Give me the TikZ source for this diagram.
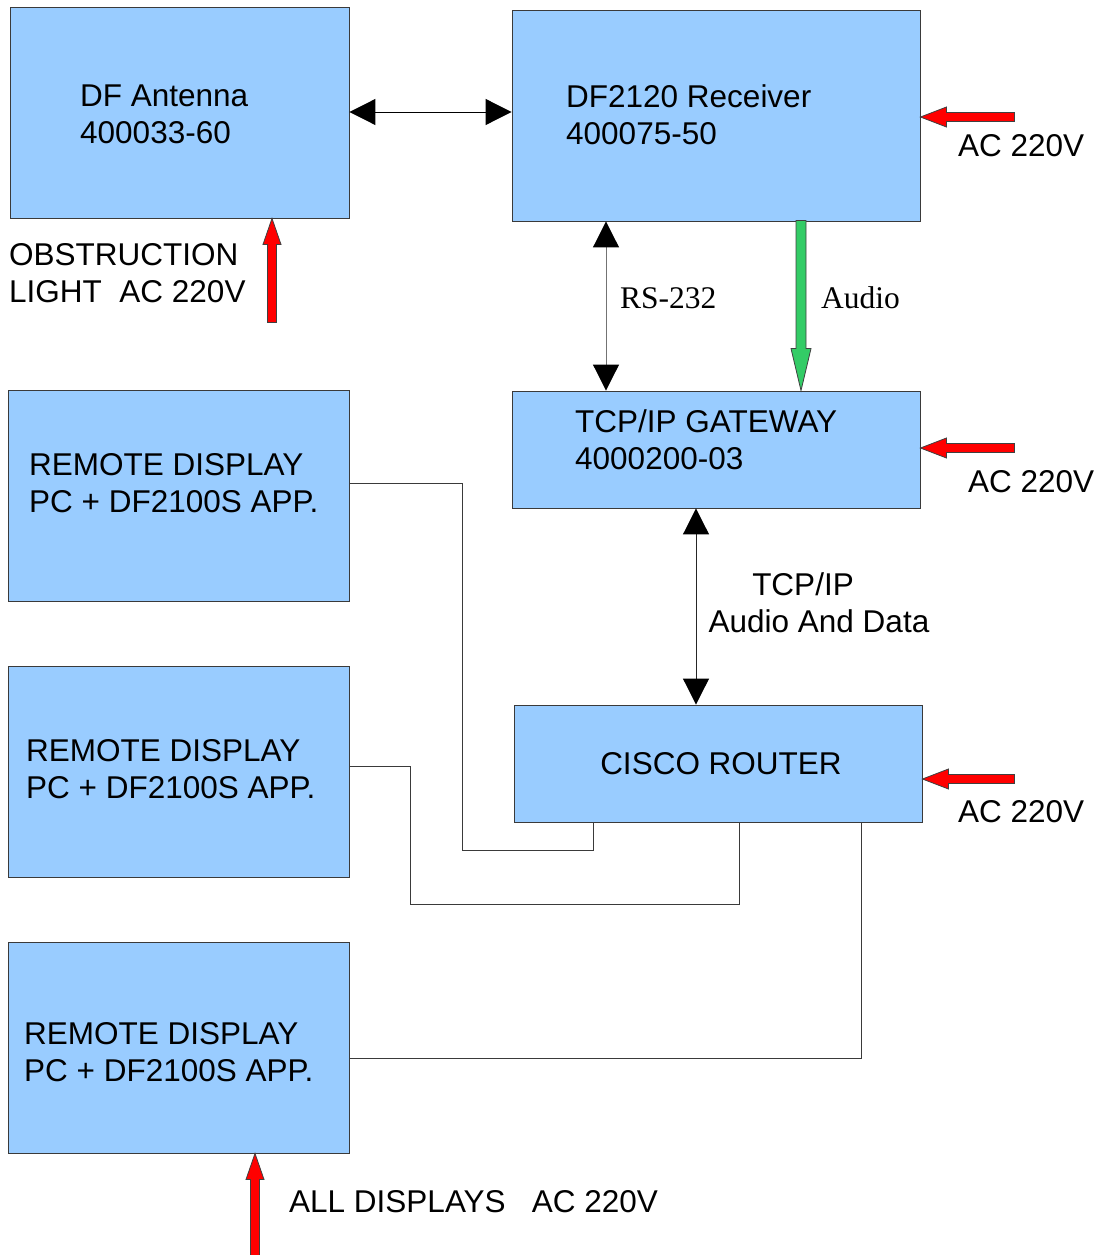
\documentclass[tikz,border=0pt]{standalone}
\usepackage{fontspec}
\setmainfont{Liberation Sans}
\newfontfamily\labelserif{Liberation Serif}
\usetikzlibrary{arrows.meta,positioning}
\definecolor{boxblue}{HTML}{99CCFF}
\definecolor{boxline}{HTML}{3A3A3A}
\definecolor{powerred}{HTML}{FF0000}
\definecolor{audiogreen}{HTML}{33CC66}

\tikzset{
  unit/.style={draw=boxline,fill=boxblue,line width=0.9pt,inner sep=0pt},
  boxtext/.style={anchor=west,align=left,inner sep=0pt,font=\fontsize{31.5}{37}\selectfont},
  note/.style={anchor=west,align=left,inner sep=0pt,font=\fontsize{31.5}{37}\selectfont},
  serifnote/.style={anchor=west,inner sep=0pt,font=\labelserif\fontsize{31.5}{37}\selectfont},
  link/.style={line width=1pt,{Triangle[length=26pt,width=26pt,color=black]}-{Triangle[length=26pt,width=26pt,color=black]}},
  wire/.style={line width=0.9pt,boxline},
  pics/fatarrow/.style n args={5}{code={
    \filldraw[draw=black!75,fill=#5,line width=0.8pt] (0,0) -- (#2,#3/2) -- (#2,#4/2)
      -- (#1,#4/2) -- (#1,-#4/2) -- (#2,-#4/2) -- (#2,-#3/2) -- cycle;
  }}
}

\begin{document}
\begin{tikzpicture}[x=1pt,y=1pt]
  \useasboundingbox (0,0) rectangle (1099,-1255);

  % boxes
  \node[unit,minimum width=339pt,minimum height=211pt] (ant) at (179.5,-112.5) {};
  \node[unit,minimum width=408pt,minimum height=211pt] (rcv) at (716,-115.5) {};
  \node[unit,minimum width=408pt,minimum height=117pt] (gw) at (716,-449.5) {};
  \node[unit,minimum width=408pt,minimum height=117pt,font=\fontsize{31.5}{37}\selectfont] (rtr) at (718,-763.5) {\hspace{6pt}CISCO ROUTER};
  \node[unit,minimum width=341pt,minimum height=211pt] (rem1) at (178.5,-495.5) {};
  \node[unit,minimum width=341pt,minimum height=211pt] (rem2) at (178.5,-771.5) {};
  \node[unit,minimum width=341pt,minimum height=211pt] (rem3) at (178.5,-1047.5) {};

  \node[boxtext] (antxt) at (80,-114.5) {DF Antenna\\400033-60};
  \node[boxtext] (rcvtxt) at (566,-114.5) {DF2120 Receiver\\400075-50};
  \node[boxtext] (gwtxt) at (575,-439.5) {TCP/IP GATEWAY\\4000200-03};
  \node[boxtext] (rem1txt) at (29,-483.5) {REMOTE DISPLAY\\PC + DF2100S APP.};
  \node[boxtext] (rem2txt) at (26,-769.5) {REMOTE DISPLAY\\PC + DF2100S APP.};
  \node[boxtext] (rem3txt) at (24,-1052) {REMOTE DISPLAY\\PC + DF2100S APP.};

  % data links
  \draw[link] ([yshift=0.5]ant.east) -- ([yshift=0.5]ant.east -| rcv.west);
  \coordinate (rstop) at ([xshift=-110]rcv.south);
  \draw[link,black!55] (rstop) -- (rstop |- gw.north);
  \node[serifnote] (rslbl) at (620,-298) {RS-232};
  \coordinate (tcptop) at ([xshift=-20]gw.south);
  \draw[link,black!85] (tcptop) -- (tcptop |- rtr.north);
  \node[note,anchor=center,align=center] (tcplbl) at (819,-602.5) {\hspace{-32pt}TCP/IP\\Audio And Data};

  % audio
  \pic[rotate=90] at ([xshift=85]gw.north) {fatarrow={170}{42}{20}{10}{audiogreen}};
  \node[serifnote] (audlbl) at (821,-298) {Audio};

  % power feeds
  \pic at ([yshift=-1.5]rcv.east) {fatarrow={94}{26}{20}{9}{powerred}};
  \node[note] (rcvac) at (958,-146) {AC 220V};
  \pic at ([yshift=1.5]gw.east) {fatarrow={94}{26}{20}{9}{powerred}};
  \node[note] (gwac) at (968,-482) {AC 220V};
  \pic at ([yshift=-15.5]rtr.east) {fatarrow={92}{26}{20}{9}{powerred}};
  \node[note] (rtrac) at (958,-812) {AC 220V};
  \pic[rotate=-90] at ([xshift=92.5]ant.south) {fatarrow={104}{26}{18}{9}{powerred}};
  \node[note] (obslbl) at (9,-273.5) {OBSTRUCTION\\LIGHT\ \ AC 220V};
  \pic[rotate=-90] at ([xshift=76.5]rem3.south) {fatarrow={103}{26}{18}{9}{powerred}};
  \node[note] (alllbl) at (289,-1202) {ALL DISPLAYS\ \ \ AC 220V};

  % network cabling
  \coordinate (rp1) at ([xshift=80]rtr.south west);
  \coordinate (rp2) at ([xshift=226]rtr.south west);
  \coordinate (rp3) at ([xshift=348]rtr.south west);
  \draw[wire] ([yshift=12.5]rem1.east) -- ++(113,0) |- ([yshift=-28]rp1) -- (rp1);
  \draw[wire] ([yshift=5.5]rem2.east) -- ++(61,0) |- ([yshift=-82]rp2) -- (rp2);
  \draw[wire] ([yshift=-10.5]rem3.east) -| (rp3);
\end{tikzpicture}
\end{document}
